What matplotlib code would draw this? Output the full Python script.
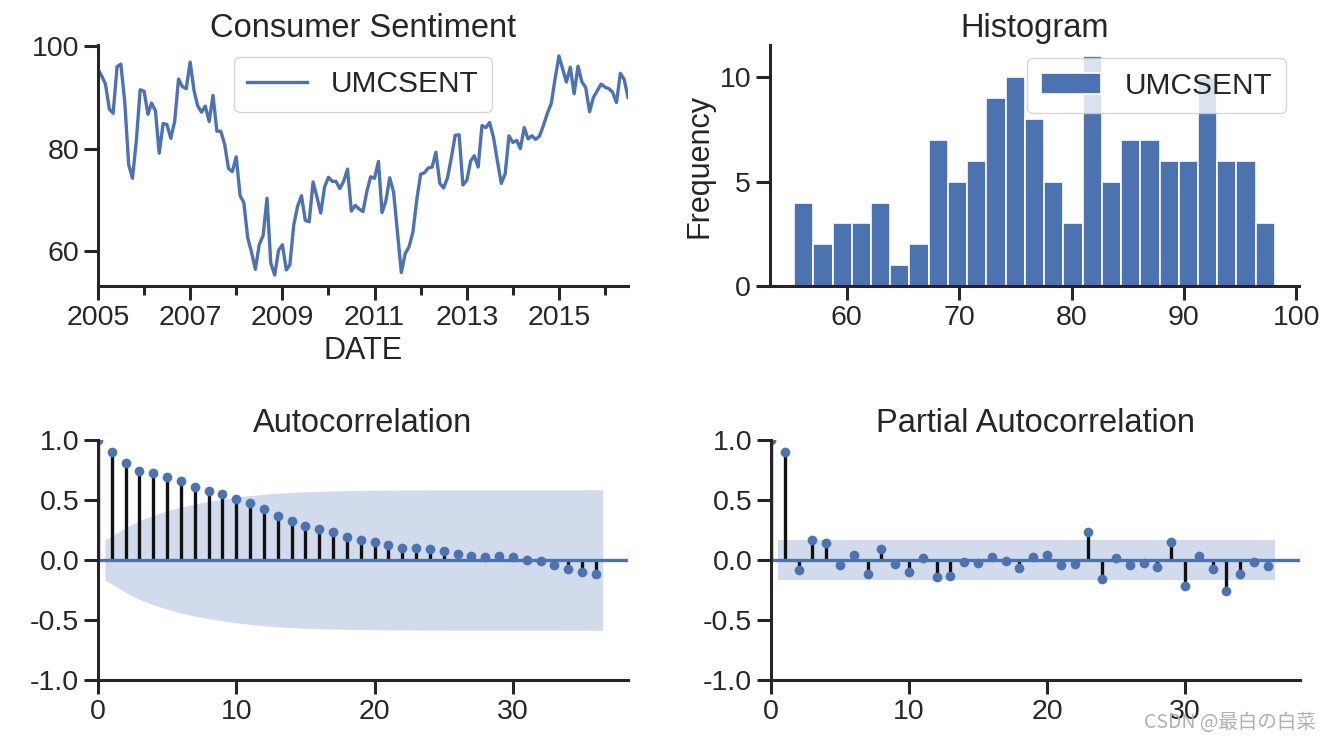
import numpy as np
import pandas as pd
import matplotlib
matplotlib.use("Agg")
import matplotlib.pyplot as plt
from datetime import datetime
import matplotlib.dates as mdates

# ---------------- data ----------------
series_name = "UMCSENT"
start_month = "2005-01-01"
umcsent = [
    95.5, 94.1, 92.6, 87.7, 86.9, 96.0, 96.5, 89.1, 76.9, 74.2, 81.6, 91.5,   # 2005
    91.2, 86.7, 88.9, 87.4, 79.1, 84.9, 84.7, 82.0, 85.4, 93.6, 92.1, 91.7,   # 2006
    96.9, 91.3, 88.4, 87.1, 88.3, 85.3, 90.4, 83.4, 83.4, 80.9, 76.1, 75.5,   # 2007
    78.4, 70.8, 69.5, 62.6, 59.8, 56.4, 61.2, 63.0, 70.3, 57.6, 55.3, 60.1,   # 2008
    61.2, 56.3, 57.3, 65.1, 68.7, 70.8, 66.0, 65.7, 73.5, 70.6, 67.4, 72.5,   # 2009
    74.4, 73.6, 73.6, 72.2, 73.6, 76.0, 67.8, 68.9, 68.2, 67.7, 71.6, 74.5,   # 2010
    74.2, 77.5, 67.5, 69.8, 74.3, 71.5, 63.7, 55.8, 59.5, 60.8, 63.7, 69.9,   # 2011
    75.0, 75.3, 76.2, 76.4, 79.3, 73.2, 72.3, 74.3, 78.3, 82.6, 82.7, 72.9,   # 2012
    73.8, 77.6, 78.6, 76.4, 84.5, 84.1, 85.1, 82.1, 77.5, 73.2, 75.1, 82.5,   # 2013
    81.2, 81.6, 80.0, 84.1, 81.9, 82.5, 81.8, 82.5, 84.6, 86.9, 88.8, 93.6,   # 2014
    98.1, 95.4, 93.0, 95.9, 90.7, 96.1, 93.1, 91.9, 87.2, 90.0, 91.3, 92.6,   # 2015
    92.0, 91.7, 91.0, 89.0, 94.7, 93.5, 90.0,                                 # 2016
]
hist_bins = 25

acf_vals = [
    1.0, 0.903, 0.806, 0.744, 0.725, 0.692, 0.656, 0.606, 0.575, 0.550,
    0.508, 0.475, 0.422, 0.364, 0.322, 0.281, 0.258, 0.233, 0.194, 0.164,
    0.147, 0.128, 0.100, 0.100, 0.089, 0.072, 0.047, 0.036, 0.022, 0.031,
    0.022, 0.003, -0.006, -0.039, -0.075, -0.100, -0.117,
]
pacf_vals = [
    1.0, 0.903, -0.081, 0.167, 0.142, -0.039, 0.044, -0.117, 0.092, -0.033,
    -0.100, 0.017, -0.139, -0.133, -0.019, -0.028, 0.028, -0.006, -0.069, 0.025,
    0.039, -0.042, -0.033, 0.230, -0.161, 0.014, -0.042, -0.022, -0.056, 0.150,
    -0.214, 0.036, -0.075, -0.256, -0.117, -0.019, -0.047,
]
z_crit = 1.96

major_years = [2005, 2007, 2009, 2011, 2013, 2015]
minor_years = [2006, 2008, 2010, 2012, 2014, 2016]

titles = ["Consumer Sentiment", "Histogram", "Autocorrelation", "Partial Autocorrelation"]
watermark = "CSDN @最白の白菜"

# ---------------- style ----------------
BLUE = "#4C72B0"
DARK = "#262626"
plt.rcParams.update({
    "font.family": ["Liberation Sans", "DejaVu Sans"],
    "axes.unicode_minus": False,
    "text.color": DARK, "axes.labelcolor": DARK,
    "xtick.color": DARK, "ytick.color": DARK, "axes.edgecolor": DARK,
    "axes.linewidth": 2.2,
    "xtick.major.width": 2.2, "ytick.major.width": 2.2,
    "xtick.minor.width": 2.2, "ytick.minor.width": 2.2,
    "xtick.major.size": 10, "ytick.major.size": 10,
    "xtick.minor.size": 6.5,
    "xtick.labelsize": 20.5, "ytick.labelsize": 20.5,
    "axes.titlesize": 23.5, "axes.labelsize": 22,
    "legend.fontsize": 21.5,
    "lines.linewidth": 2.4,
    "axes.spines.top": False, "axes.spines.right": False,
})

W, H = 1331, 742
fig = plt.figure(figsize=(W / 100, H / 100), dpi=100)


def px_axes(l, r, t, b):
    return fig.add_axes([l / W, 1 - b / H, (r - l) / W, (b - t) / H])


ts_ax = px_axes(98, 628, 45, 286)
hist_ax = px_axes(770, 1299, 45, 286)
acf_ax = px_axes(98, 628, 440, 680)
pacf_ax = px_axes(771, 1300, 440, 680)

# ---------------- time series ----------------
dates = pd.date_range(start_month, periods=len(umcsent), freq="MS")
ts_ax.plot(dates, umcsent, color=BLUE, label=series_name)
ts_ax.set_xlim(dates[0], dates[-1])
ts_ax.margins(y=0.05)
ts_ax.set_xticks([mdates.date2num(datetime(y, 1, 1)) for y in major_years])
ts_ax.set_xticklabels([str(y) for y in major_years])
ts_ax.set_xticks([mdates.date2num(datetime(y, 1, 1)) for y in minor_years], minor=True)
ts_ax.set_yticks([60, 80, 100])
ts_ax.set_xlabel("DATE")
ts_ax.set_title(titles[0])
ts_ax.legend(loc="upper center", borderpad=0.45, borderaxespad=0.4)

# ---------------- histogram ----------------
hist_ax.hist(umcsent, bins=hist_bins, color=BLUE, edgecolor="white",
             linewidth=1.2, label=series_name)
hist_ax.margins(x=0.05, y=0.05)
hist_ax.set_xticks([60, 70, 80, 90, 100])
hist_ax.set_yticks([0, 5, 10])
hist_ax.set_ylabel("Frequency")
hist_ax.set_title(titles[1])
hist_ax.legend(loc="upper right", borderpad=0.45, borderaxespad=0.45)


# ---------------- correlograms ----------------
def corr_plot(ax, vals, half_width, title):
    vals = np.asarray(vals, dtype=float)
    lags = np.arange(len(vals))
    ax.vlines(lags, 0, vals, colors="#111111", linewidth=2.4)
    ax.axhline(0, color=BLUE, linewidth=2.4)
    ax.plot(lags, vals, marker="o", markersize=7, markeredgewidth=0,
            linestyle="None", color=BLUE)
    bx = lags[1:].astype(float)
    bx[0] -= 0.5
    bx[-1] += 0.5
    hw = half_width[1:]
    ax.fill_between(bx, -hw, hw, color=BLUE, alpha=0.25, linewidth=0)
    ax.set_xlim(0, bx[-1] * 1.05)
    ax.set_ylim(-1, 1)
    ax.set_yticks([-1.0, -0.5, 0.0, 0.5, 1.0])
    ax.set_xticks([0, 10, 20, 30])
    ax.set_title(title)


nobs = len(umcsent)
acf_arr = np.asarray(acf_vals)
varacf = np.ones(len(acf_arr)) / nobs
varacf[0] = 0
varacf[2:] *= 1 + 2 * np.cumsum(acf_arr[1:-1] ** 2)
acf_hw = z_crit * np.sqrt(varacf)
pacf_hw = np.full(len(pacf_vals), z_crit / np.sqrt(nobs))

corr_plot(acf_ax, acf_vals, acf_hw, titles[2])
corr_plot(pacf_ax, pacf_vals, pacf_hw, titles[3])

# site watermark, bottom right (overlaps the "30" label as in the source image)
fig.text(1316 / W, 1 - 722 / H, watermark, ha="right", va="center",
         fontsize=14, color="#b0b0b0", zorder=10,
         family=["Noto Sans CJK SC", "DejaVu Sans"])

fig.savefig("out.png", dpi=100)
